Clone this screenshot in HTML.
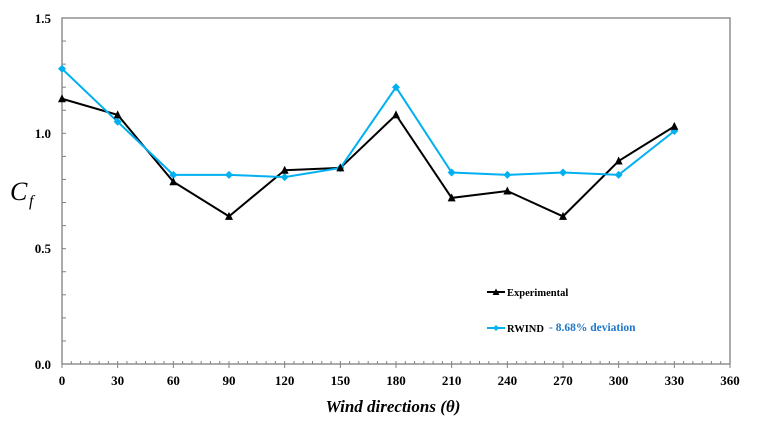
<!DOCTYPE html>
<html><head><meta charset="utf-8"><style>body{margin:0;background:#fff}svg{display:block}</style></head>
<body>
<svg width="760" height="422" xmlns="http://www.w3.org/2000/svg" font-family="Liberation Serif, serif">
<rect x="62" y="18" width="668" height="346" fill="none" stroke="#808080" stroke-width="1.3"/>
<g id="ticks" stroke="#808080" stroke-width="1"></g>
<g font-weight="bold" font-size="13" text-anchor="end">
<text x="51" y="23">1.5</text><text x="51" y="138">1.0</text><text x="51" y="253">0.5</text><text x="51" y="369">0.0</text>
</g>
<g id="xl" font-weight="bold" font-size="13" text-anchor="middle"></g>
<text x="10" y="200" font-size="26" font-style="italic">C</text>
<text x="29" y="206" font-size="16" font-style="italic">f</text>
<text x="393" y="412" font-size="17" font-weight="bold" font-style="italic" text-anchor="middle">Wind directions (θ)</text>
<polyline id="exp" fill="none" stroke="#000" stroke-width="2"/>
<polyline id="rw" fill="none" stroke="#00B0F0" stroke-width="2"/>
<g id="m"></g>
<line x1="487" y1="292" x2="505" y2="292" stroke="#000" stroke-width="2"/>
<polygon points="496,288.5 492.5,295 499.5,295" fill="#000"/>
<text x="507" y="296" font-size="10.5" font-weight="bold">Experimental</text>
<line x1="487" y1="328" x2="505" y2="328" stroke="#00B0F0" stroke-width="2"/>
<polygon points="496,325 499,328 496,331 493,328" fill="#00B0F0"/>
<text x="507" y="332" font-size="10.5" font-weight="bold">RWIND</text>
<text x="549" y="331" font-size="11.5" font-weight="bold" fill="#1F78C8">- 8.68% deviation</text>
</svg>
<script>
var ns="http://www.w3.org/2000/svg";
function X(d){return 62+d*668/360}function Y(v){return 364-v*230.67}
var t=document.getElementById('ticks'),s='';
for(var d=0;d<=360;d+=5){var M=d%30==0;s+='<line x1="'+X(d)+'" y1="'+(364-3)+'" x2="'+X(d)+'" y2="'+(364+(M?4:0))+'"/>';}
for(var k=1;k<15;k++){s+='<line x1="62" y1="'+Y(k/10)+'" x2="66" y2="'+Y(k/10)+'"/>';}
t.innerHTML=s;
var xl='';for(var d=0;d<=360;d+=30)xl+='<text x="'+X(d)+'" y="385">'+d+'</text>';
document.getElementById('xl').innerHTML=xl;
var e=[1.15,1.08,0.79,0.64,0.84,0.85,1.08,0.72,0.75,0.64,0.88,1.03];
var r=[1.28,1.05,0.82,0.82,0.81,0.85,1.20,0.83,0.82,0.83,0.82,1.01];
var pe=[],pr=[],m='';
for(var i=0;i<12;i++){var x=X(i*30),ye=Y(e[i]),yr=Y(r[i]);pe.push(x+','+ye);pr.push(x+','+yr);
m+='<polygon points="'+x+','+(yr-4)+' '+(x+4)+','+yr+' '+x+','+(yr+4)+' '+(x-4)+','+yr+'" fill="#00B0F0"/>';
m+='<polygon points="'+x+','+(ye-4.5)+' '+(x-4)+','+(ye+3.5)+' '+(x+4)+','+(ye+3.5)+'" fill="#000"/>';}
document.getElementById('exp').setAttribute('points',pe.join(' '));
document.getElementById('rw').setAttribute('points',pr.join(' '));
document.getElementById('m').innerHTML=m;
</script>
</body></html>
